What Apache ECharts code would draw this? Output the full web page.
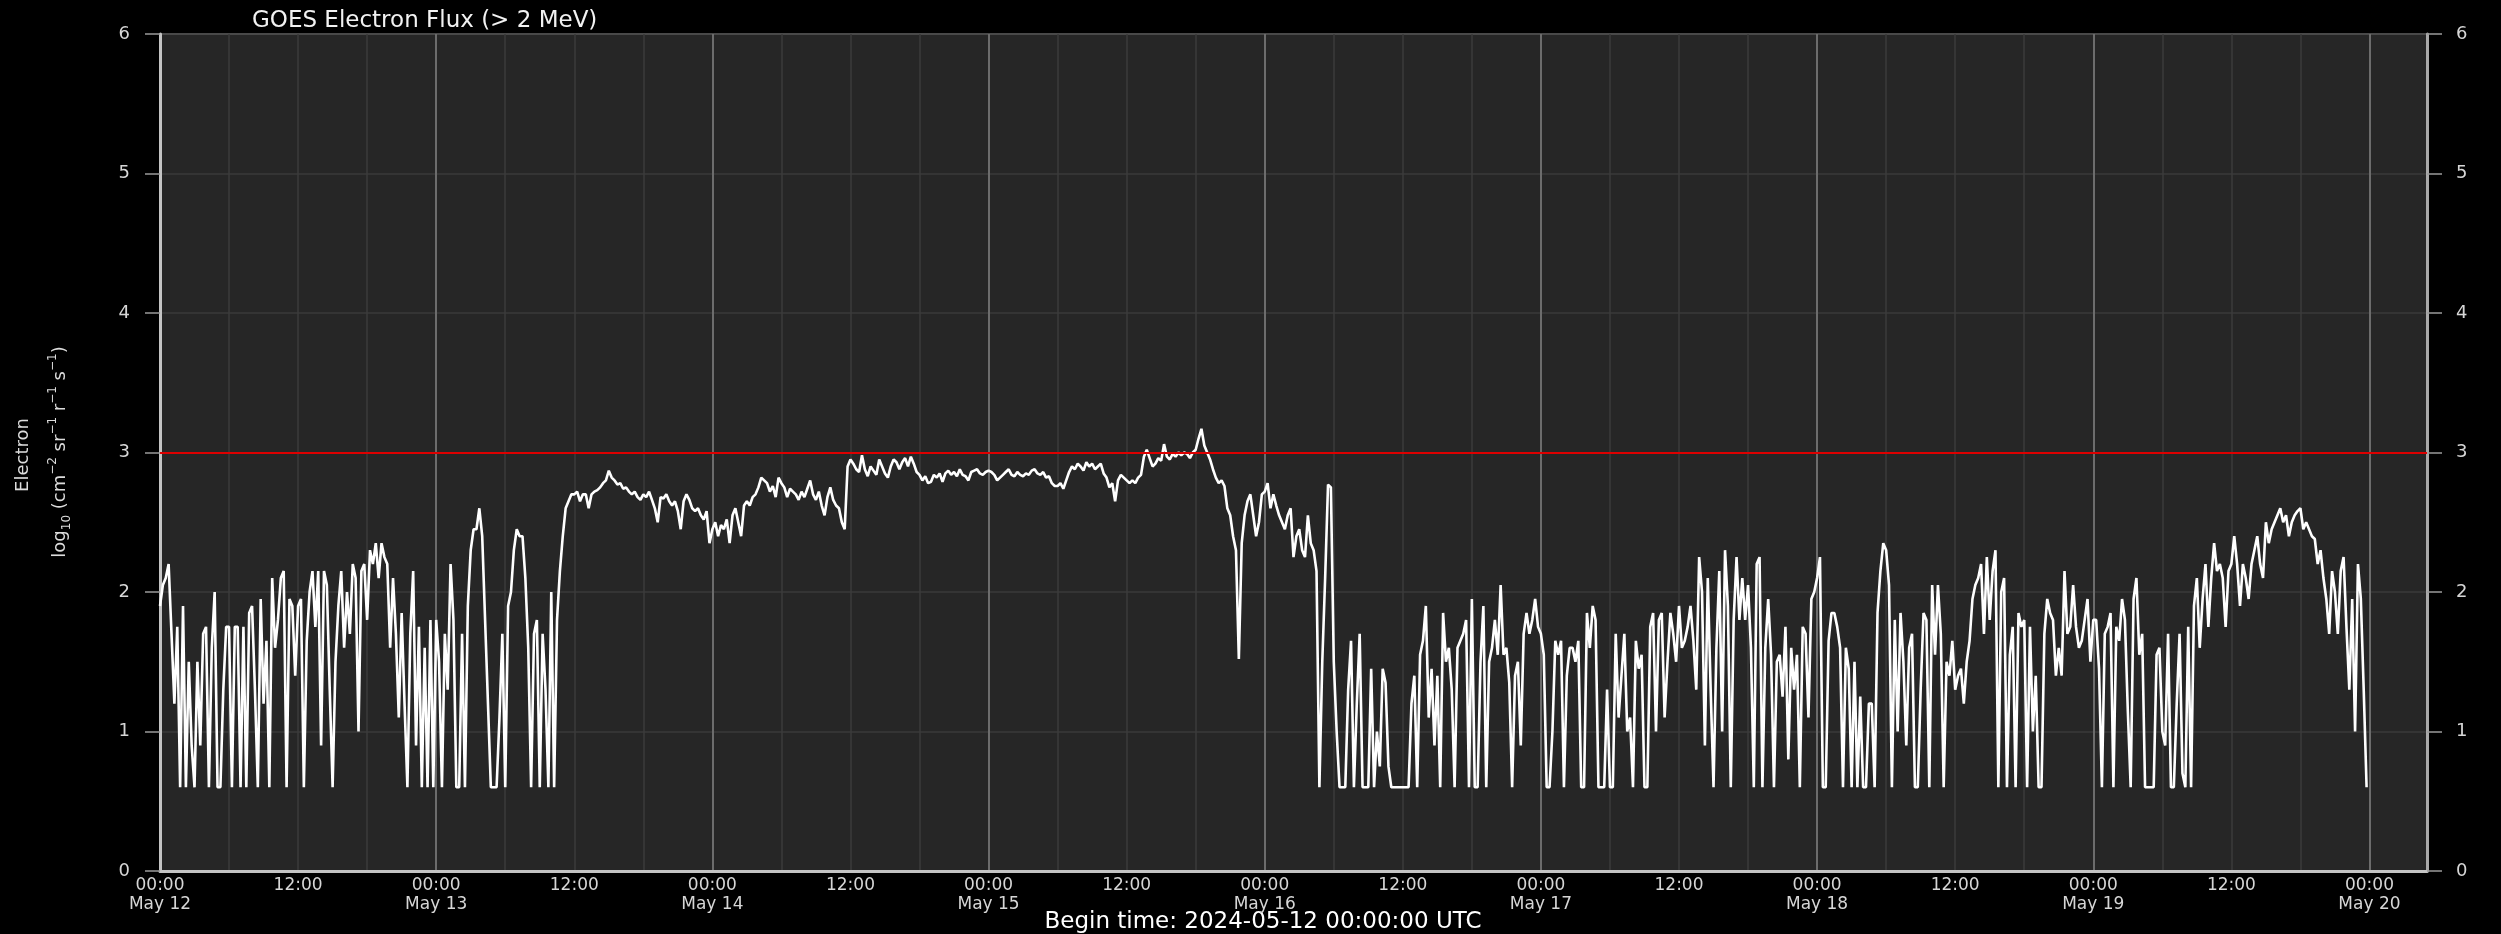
<!DOCTYPE html>
<html>
<head>
<meta charset="utf-8">
<script src="https://cdn.jsdelivr.net/npm/echarts@6/dist/echarts.min.js"></script>
<style>
html,body{margin:0;padding:0;background:#000;}
#chart{width:2501px;height:934px;}
</style>
</head>
<body>
<div id="chart"></div>
<script>
// ---- DATA (log10 electron flux, 15-minute samples) ----
const sampleMinutes = 15;
const startDay = '2024-05-12';
const may12 = [
  1.9, 2.05, 2.1, 2.2, 1.7, 1.2, 1.75, 0.6, 1.9, 0.6, 1.5, 0.9, 0.6, 1.5, 0.9, 1.7, 1.75, 0.6, 1.6, 2.0, 0.6, 0.6, 1.3, 1.75,
  1.75, 0.6, 1.75, 1.75, 0.6, 1.75, 0.6, 1.85, 1.9, 1.3, 0.6, 1.95, 1.2, 1.65, 0.6, 2.1, 1.6, 1.8, 2.1, 2.15, 0.6, 1.95, 1.9, 1.4,
  1.9, 1.95, 0.6, 1.65, 2.0, 2.15, 1.75, 2.15, 0.9, 2.15, 2.05, 1.3, 0.6, 1.5, 1.9, 2.15, 1.6, 2.0, 1.7, 2.2, 2.1, 1.0, 2.15, 2.2,
  1.8, 2.3, 2.2, 2.35, 2.1, 2.35, 2.25, 2.2, 1.6, 2.1, 1.7, 1.1, 1.85, 1.2, 0.6, 1.7, 2.15, 0.9, 1.75, 0.6, 1.6, 0.6, 1.8, 0.6
];
const may13 = [
  1.8, 1.5, 0.6, 1.7, 1.3, 2.2, 1.8, 0.6, 0.6, 1.7, 0.6, 1.9, 2.3, 2.45, 2.45, 2.6, 2.4, 1.8, 1.2, 0.6, 0.6, 0.6, 1.1, 1.7,
  0.6, 1.9, 2.0, 2.3, 2.45, 2.4, 2.4, 2.1, 1.6, 0.6, 1.7, 1.8, 0.6, 1.7, 1.3, 0.6, 2.0, 0.6, 1.8, 2.15, 2.4, 2.6, 2.65, 2.7,
  2.7, 2.72, 2.65, 2.7, 2.7, 2.6, 2.7, 2.72, 2.73, 2.75, 2.78, 2.8, 2.87, 2.82, 2.8, 2.77, 2.78, 2.74, 2.75, 2.72, 2.7, 2.72, 2.68, 2.66,
  2.7, 2.68, 2.72, 2.66, 2.6, 2.5, 2.68, 2.67, 2.7, 2.65, 2.62, 2.65, 2.58, 2.45, 2.65, 2.7, 2.66, 2.6, 2.58, 2.6, 2.55, 2.52, 2.58, 2.35
];
const may14 = [
  2.45, 2.5, 2.4, 2.48, 2.45, 2.52, 2.35, 2.55, 2.6, 2.5, 2.4, 2.62, 2.65, 2.62, 2.68, 2.7, 2.75, 2.82, 2.8, 2.78, 2.72, 2.76, 2.68, 2.82,
  2.78, 2.75, 2.68, 2.74, 2.72, 2.7, 2.66, 2.72, 2.68, 2.74, 2.8, 2.7, 2.66, 2.72, 2.62, 2.55, 2.68, 2.75, 2.66, 2.62, 2.6, 2.5, 2.45, 2.9,
  2.95, 2.92, 2.88, 2.86, 2.98, 2.88, 2.83, 2.9, 2.87, 2.84, 2.95, 2.9, 2.85, 2.82, 2.9, 2.95, 2.93, 2.88, 2.93, 2.96, 2.9, 2.97, 2.92, 2.86,
  2.84, 2.8, 2.83, 2.78, 2.79, 2.84, 2.82, 2.85, 2.79, 2.85, 2.87, 2.84, 2.86, 2.83, 2.88, 2.84, 2.83, 2.8, 2.86, 2.87, 2.88, 2.85, 2.84, 2.86
];
const may15 = [
  2.87, 2.86, 2.84, 2.8, 2.82, 2.84, 2.86, 2.88, 2.84, 2.83, 2.86, 2.84, 2.83, 2.85, 2.84, 2.87, 2.88, 2.85, 2.84, 2.86, 2.82, 2.83, 2.78, 2.76,
  2.76, 2.78, 2.74, 2.8, 2.86, 2.9, 2.88, 2.92, 2.9, 2.87, 2.93, 2.9, 2.92, 2.88, 2.9, 2.92, 2.85, 2.82, 2.75, 2.78, 2.65, 2.8, 2.84, 2.82,
  2.8, 2.78, 2.8, 2.78, 2.82, 2.84, 2.97, 3.02, 2.96, 2.9, 2.92, 2.96, 2.94, 3.06, 2.97, 2.95, 2.99, 2.97, 3.0, 2.98, 3.0, 2.99, 2.96, 3.0,
  3.02, 3.1, 3.17, 3.05, 3.0, 2.95, 2.88, 2.82, 2.78, 2.8, 2.76, 2.6, 2.55, 2.4, 2.3, 1.52, 2.35, 2.55, 2.65, 2.7, 2.55, 2.4, 2.5, 2.7
];
const may16 = [
  2.72, 2.78, 2.6, 2.7, 2.62, 2.55, 2.5, 2.45, 2.55, 2.6, 2.25, 2.4, 2.45, 2.3, 2.25, 2.55, 2.35, 2.3, 2.15, 0.6, 1.5, 2.1, 2.77, 2.75,
  1.5, 1.0, 0.6, 0.6, 0.6, 1.3, 1.65, 0.6, 1.2, 1.7, 0.6, 0.6, 0.6, 1.45, 0.6, 1.0, 0.75, 1.45, 1.35, 0.75, 0.6, 0.6, 0.6, 0.6,
  0.6, 0.6, 0.6, 1.2, 1.4, 0.6, 1.55, 1.65, 1.9, 1.1, 1.45, 0.9, 1.4, 0.6, 1.85, 1.5, 1.6, 1.3, 0.6, 1.6, 1.65, 1.7, 1.8, 0.6,
  1.95, 0.6, 0.6, 1.5, 1.9, 0.6, 1.5, 1.6, 1.8, 1.55, 2.05, 1.55, 1.6, 1.35, 0.6, 1.4, 1.5, 0.9, 1.7, 1.85, 1.7, 1.8, 1.95, 1.75
];
const may17 = [
  1.7, 1.55, 0.6, 0.6, 1.0, 1.65, 1.55, 1.65, 0.6, 1.4, 1.6, 1.6, 1.5, 1.65, 0.6, 0.6, 1.85, 1.6, 1.9, 1.8, 0.6, 0.6, 0.6, 1.3,
  0.6, 0.6, 1.7, 1.1, 1.4, 1.7, 1.0, 1.1, 0.6, 1.65, 1.45, 1.55, 0.6, 0.6, 1.75, 1.85, 1.0, 1.8, 1.85, 1.1, 1.5, 1.85, 1.7, 1.5,
  1.9, 1.6, 1.65, 1.75, 1.9, 1.65, 1.3, 2.25, 2.0, 0.9, 2.1, 1.3, 0.6, 1.6, 2.15, 1.0, 2.3, 1.9, 0.6, 1.8, 2.25, 1.8, 2.1, 1.8,
  2.05, 1.6, 0.6, 2.2, 2.25, 0.6, 1.6, 1.95, 1.55, 0.6, 1.5, 1.55, 1.25, 1.75, 0.8, 1.6, 1.3, 1.55, 0.6, 1.75, 1.7, 1.1, 1.95, 2.0
];
const may18 = [
  2.1, 2.25, 0.6, 0.6, 1.65, 1.85, 1.85, 1.75, 1.6, 0.6, 1.6, 1.45, 0.6, 1.5, 0.6, 1.25, 0.6, 0.6, 1.2, 1.2, 0.6, 1.85, 2.15, 2.35,
  2.3, 2.05, 0.6, 1.8, 1.0, 1.85, 1.5, 0.9, 1.6, 1.7, 0.6, 0.6, 1.3, 1.85, 1.8, 0.6, 2.05, 1.55, 2.05, 1.7, 0.6, 1.5, 1.4, 1.65,
  1.3, 1.4, 1.45, 1.2, 1.5, 1.65, 1.95, 2.05, 2.1, 2.2, 1.7, 2.25, 1.8, 2.15, 2.3, 0.6, 2.0, 2.1, 0.6, 1.55, 1.75, 0.6, 1.85, 1.75,
  1.8, 0.6, 1.75, 1.0, 1.4, 0.6, 0.6, 1.7, 1.95, 1.85, 1.8, 1.4, 1.6, 1.4, 2.15, 1.7, 1.75, 2.05, 1.75, 1.6, 1.65, 1.8, 1.95, 1.5
];
const may19 = [
  1.8, 1.8, 1.45, 0.6, 1.7, 1.75, 1.85, 0.6, 1.75, 1.65, 1.95, 1.8, 1.15, 0.6, 1.95, 2.1, 1.55, 1.7, 0.6, 0.6, 0.6, 0.6, 1.55, 1.6,
  1.0, 0.9, 1.7, 0.6, 0.6, 1.2, 1.7, 0.7, 0.6, 1.75, 0.6, 1.9, 2.1, 1.6, 1.95, 2.2, 1.75, 2.1, 2.35, 2.15, 2.2, 2.1, 1.75, 2.15,
  2.2, 2.4, 2.2, 1.9, 2.2, 2.1, 1.95, 2.2, 2.3, 2.4, 2.2, 2.1, 2.5, 2.35, 2.45, 2.5, 2.55, 2.6, 2.5, 2.55, 2.4, 2.5, 2.55, 2.58,
  2.6, 2.45, 2.5, 2.45, 2.4, 2.38, 2.2, 2.3, 2.1, 1.95, 1.7, 2.15, 2.0, 1.7, 2.15, 2.25, 1.75, 1.3, 1.95, 1.0, 2.2, 1.95, 1.3, 0.6
];
const dayArrays = [may12, may13, may14, may15, may16, may17, may18, may19];
const threshold = 3;
const yTickValues = [0, 1, 2, 3, 4, 5, 6];
const monthNames = ['Jan','Feb','Mar','Apr','May','Jun','Jul','Aug','Sep','Oct','Nov','Dec'];
const titleText = 'GOES Electron Flux (> 2 MeV)';
const beginText = 'Begin time: 2024-05-12 00:00:00 UTC';
const yNameLine1 = 'Electron';
const yNameLine2 = 'log{sub|10} (cm{sup|\u22122} sr{sup|\u22121} r{sup|\u22121} s{sup|\u22121})';

// ---- build series ----
const t0 = Date.parse(startDay + 'T00:00:00Z');
const DAY = 86400000, H6 = 6 * 3600000;
const seriesData = [];
dayArrays.forEach((arr, d) => {
  arr.forEach((v, i) => seriesData.push([t0 + d * DAY + i * sampleMinutes * 60000, v]));
});
const xMin = t0;
const xMax = t0 + 8 * DAY + 5 * 3600000;

function xLabel(v) {
  const d = new Date(v);
  if (d.getUTCMinutes() !== 0) return '';
  const h = d.getUTCHours();
  if (h === 0) return '00:00\n' + monthNames[d.getUTCMonth()] + ' ' + d.getUTCDate();
  if (h === 12) return '12:00';
  return '';
}

const FONT = '"DejaVu Sans", sans-serif';
const axisColor = '#c4c4c4';
const labelColor = '#d6d6d6';

const chart = echarts.init(document.getElementById('chart'), null, {renderer: 'canvas'});
chart.setOption({
  backgroundColor: '#000000',
  animation: false,
  textStyle: {fontFamily: FONT},
  grid: {left: 160, right: 74, top: 34, bottom: 63, show: true,
         backgroundColor: '#262626', borderColor: '#7a7a7a', borderWidth: 2},
  xAxis: [
    {type: 'value', min: xMin, max: xMax, interval: H6,
     axisLine: {show: true, lineStyle: {color: axisColor, width: 3}},
     axisTick: {show: false},
     axisLabel: {formatter: xLabel, color: labelColor, fontSize: 17, lineHeight: 19, margin: 5, fontFamily: FONT},
     splitLine: {show: true, lineStyle: {color: '#3b3b3b', width: 1.5}}},
    {type: 'value', min: xMin, max: xMax, interval: DAY, position: 'bottom',
     axisLine: {show: false}, axisTick: {show: false}, axisLabel: {show: false},
     splitLine: {show: true, lineStyle: {color: '#6c6c6c', width: 2}}}
  ],
  yAxis: [
    {type: 'value', min: yTickValues[0], max: yTickValues[yTickValues.length - 1], interval: 1, position: 'left',
     axisLine: {show: true, lineStyle: {color: axisColor, width: 3}},
     axisTick: {show: true, length: 15, lineStyle: {color: '#9a9a9a', width: 1.5}},
     axisLabel: {color: labelColor, fontSize: 18, margin: 30, fontFamily: FONT},
     splitLine: {show: true, lineStyle: {color: '#3a3a3a', width: 1.5}}},
    {type: 'value', min: yTickValues[0], max: yTickValues[yTickValues.length - 1], interval: 1, position: 'right',
     axisLine: {show: true, lineStyle: {color: '#a8a8a8', width: 3}},
     axisTick: {show: true, length: 15, lineStyle: {color: '#9a9a9a', width: 1.5}},
     axisLabel: {color: labelColor, fontSize: 18, margin: 29, fontFamily: FONT},
     splitLine: {show: false}}
  ],
  series: [{
    type: 'line', xAxisIndex: 0, yAxisIndex: 0, data: seriesData,
    symbol: 'none', showSymbol: false, silent: true,
    lineStyle: {color: '#ffffff', width: 2.6},
    markLine: {silent: true, symbol: 'none', label: {show: false},
               lineStyle: {color: '#dd0000', width: 2, type: 'solid'},
               data: [{yAxis: threshold}]}
  }],
  graphic: [
    {type: 'text', x: 252, y: 21, style: {text: titleText, fill: '#f2f2f2', font: '23px ' + FONT, textVerticalAlign: 'middle'}},
    {type: 'text', x: 1263, y: 922, style: {text: beginText, fill: '#ffffff', font: '23px ' + FONT, textAlign: 'center', textVerticalAlign: 'middle'}},
    {type: 'text', x: 23, y: 455, rotation: Math.PI / 2, style: {text: yNameLine1, fill: '#dcdcdc', font: '18px ' + FONT, textAlign: 'center', textVerticalAlign: 'middle'}},
    {type: 'text', x: 60, y: 452, rotation: Math.PI / 2, style: {
      text: yNameLine2, fill: '#dcdcdc', font: '18px ' + FONT, textAlign: 'center', textVerticalAlign: 'middle',
      lineHeight: 26,
      rich: {
        sup: {fontSize: 12, fill: '#dcdcdc', fontFamily: FONT, verticalAlign: 'top', lineHeight: 26},
        sub: {fontSize: 12, fill: '#dcdcdc', fontFamily: FONT, verticalAlign: 'bottom', lineHeight: 22}
      }}}
  ]
});
</script>
</body>
</html>
